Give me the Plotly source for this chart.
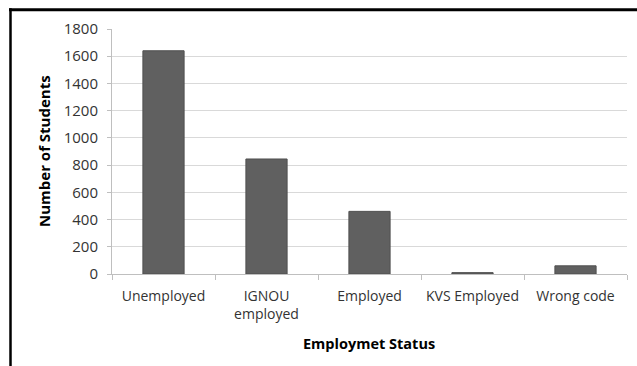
import plotly.graph_objects as go

categories = ["Unemployed", "IGNOU<br>employed", "Employed", "KVS Employed", "Wrong code"]
students = [1640, 845, 460, 10, 60]
y_ticks = [0, 200, 400, 600, 800, 1000, 1200, 1400, 1600, 1800]

FONT = "Open Sans"
AXIS_GRAY = "#bfbfbf"

fig = go.Figure()
fig.add_trace(go.Bar(
    x=categories, y=students,
    marker=dict(color="#606060", line=dict(color="#4f4f4f", width=1)),
    width=0.4,
))

W, H = 637, 366
L, R, T, B = 112, 10, 29, 92
pw, ph = W - L - R, H - T - B

def px(x):
    return (x - L) / pw

def py(y):
    return (H - B - y) / ph

fig.update_layout(
    width=W, height=H,
    margin=dict(l=L, r=R, t=T, b=B, autoexpand=False),
    paper_bgcolor="white", plot_bgcolor="white",
    showlegend=False,
    font=dict(family=FONT, size=14, color="#333333"),
    xaxis=dict(
        type="category", showline=True, linecolor=AXIS_GRAY, linewidth=1,
        ticks="outside", tickson="boundaries", ticklen=5, tickcolor=AXIS_GRAY,
        tickfont=dict(family=FONT, size=14, color="#333333"),
        tickangle=0, automargin=False,
        showgrid=False, ticklabelstandoff=9,
    ),
    yaxis=dict(
        range=[0, 1800], tickvals=y_ticks, ticktext=[str(v) for v in y_ticks],
        showline=True, linecolor=AXIS_GRAY, linewidth=1,
        ticks="outside", ticklen=4, tickcolor=AXIS_GRAY,
        showgrid=True, gridcolor="#d9d9d9", gridwidth=1,
        zeroline=False, automargin=False,
        tickfont=dict(family=FONT, size=15, color="#333333"),
        ticklabelstandoff=6,
    ),
    annotations=[
        dict(text="<b>Employmet Status</b>", xref="paper", yref="paper",
             x=px(369), y=py(343), xanchor="center", yanchor="middle",
             showarrow=False, font=dict(family=FONT, size=14.5, color="#000000")),
        dict(text="<b>Number of Students</b>", xref="paper", yref="paper",
             x=px(44), y=py(151), xanchor="center", yanchor="middle", textangle=-90,
             showarrow=False, font=dict(family=FONT, size=15, color="#000000")),
    ],
    shapes=[
        dict(type="line", xref="paper", yref="paper",
             x0=px(9), x1=px(640), y0=py(9.7), y1=py(9.7),
             line=dict(color="black", width=3)),
        dict(type="line", xref="paper", yref="paper",
             x0=px(10.5), x1=px(10.5), y0=py(8.2), y1=py(370),
             line=dict(color="black", width=2.5)),
    ],
)

fig.write_html("out.html")
